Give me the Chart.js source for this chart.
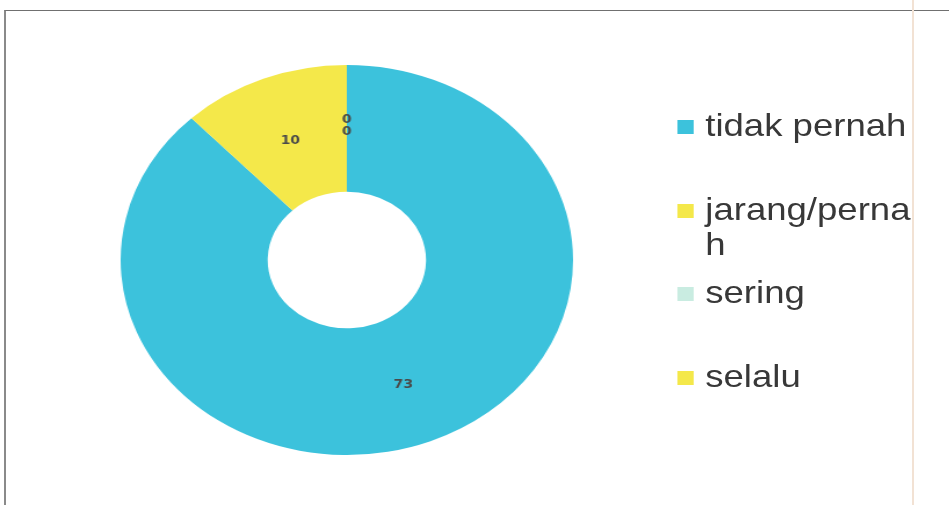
<!DOCTYPE html>
<html>
<head>
<meta charset="utf-8">
<script src="https://cdn.jsdelivr.net/npm/chart.js@4"></script>
<style>
  html, body { margin: 0; padding: 0; background: #fff; }
  body { width: 949px; height: 505px; overflow: hidden; position: relative; }
  #frame { position: absolute; left: 4px; top: 10px; width: 945px; height: 495px;
           border-top: 1px solid #707070; border-left: 2px solid #8a8a8a; }
  #edge { position: absolute; left: 912px; top: 0; width: 2px; height: 505px; background: #f2e2d4; }
  /* the slide is drawn a bit wide, so the whole stage is stretched sideways */
  #stage { position: absolute; left: 0; top: 0; width: 818px; height: 505px;
           transform: scaleX(1.16); transform-origin: 0 0; }
  #pie { position: absolute; left: 99px; top: 60px; }
  #legend { position: absolute; left: 584px; top: 108px; width: 206px;
            font-family: 'Liberation Sans', Arial, sans-serif; font-size: 31.5px; color: #383838; }
  .item { position: relative; height: 83.5px; padding-left: 24px; line-height: 35px; word-break: break-all; }
  .swatch { position: absolute; left: 0; top: 12px; width: 14px; height: 14px; }
</style>
</head>
<body>
<div id="frame"></div>
<div id="edge"></div>
<div id="stage">
  <canvas id="pie" width="400" height="400"></canvas>
  <div id="legend"></div>
</div>
<script>
const answers = ['tidak pernah', 'jarang/pernah', 'sering', 'selalu'];
const counts  = [73, 10, 0, 0];
const colours = ['#3cc2dc', '#f4e84a', '#c9ece1', '#f4e84a'];

// value labels sit in the middle of each ring segment; zeros get stacked upward
const valueLabels = {
  id: 'valueLabels',
  afterDatasetsDraw(chart) {
    const ctx = chart.ctx;
    const meta = chart.getDatasetMeta(0);
    const placed = [];
    ctx.save();
    ctx.font = 'bold 12px "DejaVu Sans"';
    ctx.fillStyle = '#4a4a4a';
    ctx.textAlign = 'center';
    ctx.textBaseline = 'middle';
    meta.data.forEach((arc, i) => {
      let { x, y } = arc.tooltipPosition();
      y += 3;
      while (placed.some(p => Math.abs(p.x - x) < 12 && Math.abs(p.y - y) < 12)) y -= 12;
      placed.push({ x, y });
      ctx.fillText(String(counts[i]), x, y);
    });
    ctx.restore();
  }
};

new Chart(document.getElementById('pie').getContext('2d'), {
  type: 'doughnut',
  data: {
    labels: answers,
    datasets: [{
      data: counts,
      backgroundColor: colours,
      borderWidth: 0,
      hoverOffset: 0
    }]
  },
  options: {
    responsive: false,
    animation: false,
    cutout: '35%',
    layout: { padding: 5 },
    plugins: {
      legend: { display: false },
      tooltip: { enabled: false }
    }
  },
  plugins: [valueLabels]
});

// legend on the right, built from the same arrays
const legend = document.getElementById('legend');
answers.forEach((name, i) => {
  const item = document.createElement('div');
  item.className = 'item';
  const box = document.createElement('span');
  box.className = 'swatch';
  box.style.background = colours[i];
  item.appendChild(box);
  item.appendChild(document.createTextNode(name));
  legend.appendChild(item);
});
</script>
</body>
</html>
